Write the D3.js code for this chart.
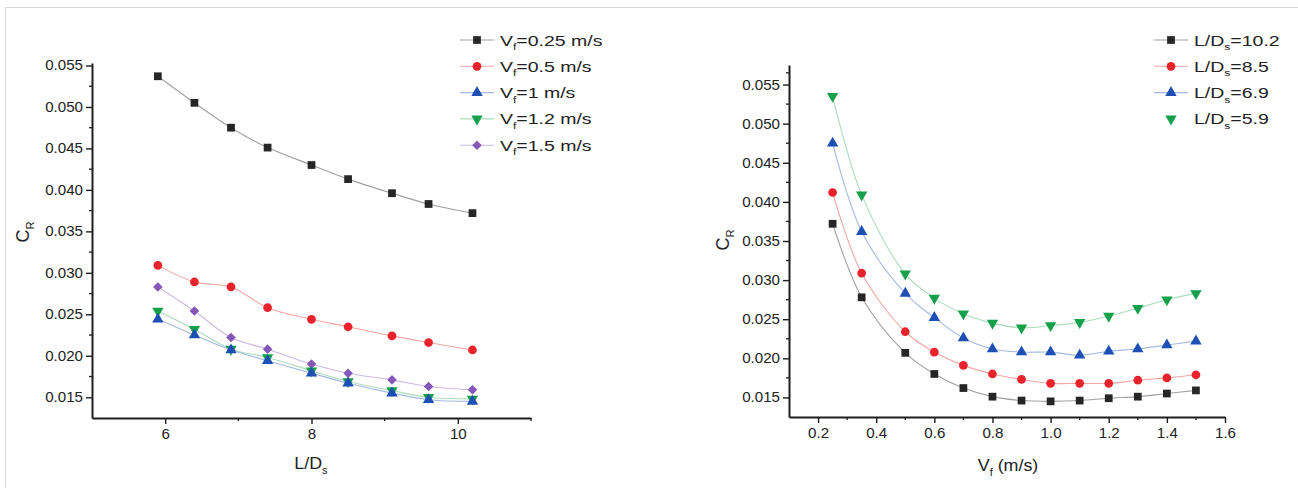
<!DOCTYPE html>
<html>
<head>
<meta charset="utf-8">
<script src="https://cdn.jsdelivr.net/npm/d3@7"></script>
<style>
  body { margin: 0; background: #ffffff; }
  svg { display: block; font-family: "Liberation Sans", Arial, sans-serif; }
</style>
</head>
<body>
<script>
// ---- data ----
var ldRatios = [5.9, 6.4, 6.9, 7.4, 8.0, 8.5, 9.1, 9.6, 10.2];
var leftSeriesNames = ["0.25", "0.5", "1", "1.2", "1.5"];
var crVf025 = [0.0537, 0.0505, 0.0475, 0.0451, 0.0430, 0.0413, 0.0396, 0.0383, 0.0372];
var crVf05  = [0.0309, 0.0289, 0.0283, 0.0258, 0.0244, 0.0235, 0.0224, 0.0216, 0.0207];
var crVf1   = [0.0244, 0.0225, 0.0207, 0.0194, 0.0179, 0.0167, 0.0155, 0.0147, 0.0145];
var crVf12  = [0.0254, 0.0232, 0.0208, 0.0198, 0.0182, 0.0169, 0.0158, 0.0150, 0.0148];
var crVf15  = [0.0283, 0.0254, 0.0222, 0.0208, 0.0190, 0.0179, 0.0171, 0.0163, 0.0159];

var flowSpeeds = [0.25, 0.35, 0.5, 0.6, 0.7, 0.8, 0.9, 1.0, 1.1, 1.2, 1.3, 1.4, 1.5];
var rightSeriesNames = ["10.2", "8.5", "6.9", "5.9"];
var crLd102 = [0.0372, 0.0278, 0.0207, 0.0180, 0.0162, 0.0151, 0.0146, 0.0145, 0.0146, 0.0149, 0.0151, 0.0155, 0.0159];
var crLd85  = [0.0412, 0.0309, 0.0234, 0.0208, 0.0191, 0.0180, 0.0173, 0.0168, 0.0168, 0.0168, 0.0172, 0.0175, 0.0179];
var crLd69  = [0.0475, 0.0362, 0.0283, 0.0252, 0.0226, 0.0212, 0.0208, 0.0208, 0.0204, 0.0209, 0.0212, 0.0217, 0.0222];
var crLd59  = [0.0535, 0.0409, 0.0308, 0.0277, 0.0257, 0.0245, 0.0239, 0.0242, 0.0246, 0.0254, 0.0264, 0.0275, 0.0283];

var crTicks = [0.015, 0.020, 0.025, 0.030, 0.035, 0.040, 0.045, 0.050, 0.055];
var ldTicks = [6, 8, 10];
var vfTicks = [0.2, 0.4, 0.6, 0.8, 1.0, 1.2, 1.4, 1.6];

var WIDTH = 1298, HEIGHT = 488;
var AXIS_COLOR = "#1e1e1e";
var TEXT_COLOR = "#222222";

var styles = {
  black:  { fill: "#262626", line: "#a0a0a0", shape: d3.symbolSquare,   size: 60 },
  red:    { fill: "#e8232b", line: "#f2a6a6", shape: d3.symbolCircle,   size: 60 },
  blue:   { fill: "#1d4fb5", line: "#a3b8e2", shape: d3.symbolTriangle, size: 56 },
  green:  { fill: "#17a04b", line: "#acdcbb", shape: "down",            size: 56 },
  purple: { fill: "#8457b8", line: "#cdb9e2", shape: "diamond",         size: 46 }
};


function markerPath(st)
{
  if (st.shape === "down" ) return d3.symbol().type(d3.symbolTriangle).size(st.size)();
  if (st.shape === "diamond") return d3.symbol().type(d3.symbolSquare).size(st.size)();
  return d3.symbol().type(st.shape).size(st.size)();
}

function markerTransform(st, x, y)
{
  var t = "translate(" + x + "," + y + ")";
  if (st.shape === "down") t += " rotate(180)";
  if (st.shape === "diamond") t += " rotate(45)";
  return t;
}


// text with a sub-scripted part, slightly stretched like the scanned figure
function subText(parent, x, y, main, sub, rest, size, anchor, sx, rot)
{
  var tr = "translate(" + x + "," + y + ")";
  if (rot) tr += " rotate(" + rot + ")";
  tr += " scale(" + sx + ",1)";
  var t = parent.append("text")
                .attr("transform", tr)
                .attr("text-anchor", anchor)
                .style("font-size", size + "px")
                .style("fill", TEXT_COLOR);
  t.append("tspan").text(main);
  t.append("tspan").attr("dy", size * 0.3).style("font-size", (size * 0.62) + "px").text(sub);
  if (rest) t.append("tspan").attr("dy", -size * 0.3).text(rest);
  return t;
}


function drawAxes(g, x, y, xTicks, xMinor, yMinor)
{
  var xr = x.range(), yr = y.range();

  // minor ticks
  g.append("g").selectAll("line").data(xMinor).join("line")
                .attr("x1", function(d) { return x(d); })
                .attr("x2", function(d) { return x(d); })
                .attr("y1", yr[0]).attr("y2", yr[0] + 3)
                .style("stroke", AXIS_COLOR).style("stroke-width", 1.3);
  g.append("g").selectAll("line").data(yMinor).join("line")
                .attr("y1", function(d) { return y(d); })
                .attr("y2", function(d) { return y(d); })
                .attr("x1", xr[0]).attr("x2", xr[0] - 3)
                .style("stroke", AXIS_COLOR).style("stroke-width", 1.3);

  var xAxis = g.append("g")
                .attr("transform", "translate(0," + yr[0] + ")")
                .call(d3.axisBottom(x).tickValues(xTicks).tickSize(6).tickSizeOuter(0).tickPadding(5)
                        .tickFormat(function(d) { return xTicks[0] > 1 ? d : d3.format(".1f")(d); }));
  var yAxis = g.append("g")
                .attr("transform", "translate(" + xr[0] + ",0)")
                .call(d3.axisLeft(y).tickValues(crTicks).tickSize(6).tickSizeOuter(0).tickPadding(4)
                        .tickFormat(d3.format(".3f")));

  [xAxis, yAxis].forEach(function(a)
  {
    a.select(".domain").style("stroke", AXIS_COLOR).style("stroke-width", 2);
    a.selectAll(".tick line").style("stroke", AXIS_COLOR).style("stroke-width", 1.4);
    a.selectAll("text")
                .style("font-size", "14px")
                .style("fill", TEXT_COLOR)
                .style("font-family", "\"Liberation Sans\", Arial, sans-serif");
  });
  xAxis.selectAll("text").attr("transform", "scale(1.08,1)")
                .attr("x", 0);
  yAxis.selectAll("text").attr("transform", "scale(1.08,1)")
                .attr("x", -9 / 1.08);
}


function drawSeries(g, x, y, xs, ys, st, curve)
{
  var pts = xs.map(function(d, i) { return [d, ys[i]]; });
  var line = d3.line()
                .x(function(d) { return x(d[0]); })
                .y(function(d) { return y(d[1]); })
                .curve(curve);
  g.append("path")
                .attr("d", line(pts))
                .style("fill", "none")
                .style("stroke", st.line)
                .style("stroke-width", 1.1);
  g.append("g").selectAll("path").data(pts).join("path")
                .attr("d", markerPath(st))
                .attr("transform", function(d) { return markerTransform(st, x(d[0]), y(d[1])); })
                .style("fill", st.fill);
}


function drawLegend(g, x0, y0, rows, drawLine)
{
  rows.forEach(function(r, i)
  {
    var yy = y0 + i * 26.3;
    if (drawLine[i])
    {
      g.append("line")
                .attr("x1", x0).attr("x2", x0 + 34)
                .attr("y1", yy).attr("y2", yy)
                .style("stroke", r.st.line).style("stroke-width", 1.1);
    }
    g.append("path")
                .attr("d", markerPath(r.st))
                .attr("transform", markerTransform(r.st, x0 + 17, yy))
                .style("fill", r.st.fill);
    subText(g, x0 + 40, yy + 5.5, r.main, r.sub, r.rest, 15, "start", 1.3);
  });
}


function setupLeftPlot(svg)
{
  var g = svg.append("g").attr("id", "left_plot");
  var x = d3.scaleLinear().domain([5, 11]).range([92, 531]);
  var y = d3.scaleLinear().domain([0.0125, 0.0553]).range([418, 63]);

  drawAxes(g, x, y, ldTicks, [7, 9, 11], [0.0175, 0.0225, 0.0275, 0.0325, 0.0375, 0.0425, 0.0475, 0.0525]);

  var series = [
    { ys: crVf025, st: styles.black },
    { ys: crVf05,  st: styles.red },
    { ys: crVf15,  st: styles.purple },
    { ys: crVf12,  st: styles.green },
    { ys: crVf1,   st: styles.blue }
  ];
  series.forEach(function(s) { drawSeries(g, x, y, ldRatios, s.ys, s.st, d3.curveCatmullRom); });

  subText(g, 29, 232, "C", "R", null, 18, "middle", 1.0, -90);
  subText(g, 311, 469, "L/D", "s", null, 17, "middle", 1.05);

  var legendStyles = [styles.black, styles.red, styles.blue, styles.green, styles.purple];
  var rows = leftSeriesNames.map(function(n, i)
  {
    return { main: "V", sub: "f", rest: "=" + n + " m/s", st: legendStyles[i] };
  });
  drawLegend(g, 460, 40, rows, [true, true, true, true, true]);
}


function setupRightPlot(svg)
{
  var g = svg.append("g").attr("id", "right_plot");
  var x = d3.scaleLinear().domain([0.1, 1.6]).range([789, 1225]);
  var y = d3.scaleLinear().domain([0.0125, 0.0575]).range([417, 65]);

  drawAxes(g, x, y, vfTicks, [0.3, 0.5, 0.7, 0.9, 1.1, 1.3, 1.5],
           [0.0175, 0.0225, 0.0275, 0.0325, 0.0375, 0.0425, 0.0475, 0.0525, 0.0565]);

  var series = [
    { ys: crLd59,  st: styles.green },
    { ys: crLd69,  st: styles.blue },
    { ys: crLd85,  st: styles.red },
    { ys: crLd102, st: styles.black }
  ];
  series.forEach(function(s) { drawSeries(g, x, y, flowSpeeds, s.ys, s.st, d3.curveCatmullRom); });

  subText(g, 729, 240, "C", "R", null, 18, "middle", 1.0, -90);
  subText(g, 1008, 471, "V", "f", " (m/s)", 17, "middle", 1.05);

  var legendStyles = [styles.black, styles.red, styles.blue, styles.green];
  var rows = rightSeriesNames.map(function(n, i)
  {
    return { main: "L/D", sub: "s", rest: "=" + n, st: legendStyles[i] };
  });
  drawLegend(g, 1154, 40, rows, [true, true, true, false]);
}


function initializeMainEnvironment()
{
  var svg = d3.select("body").append("svg")
                .attr("width", WIDTH)
                .attr("height", HEIGHT);

  svg.append("rect")
                .attr("width", WIDTH).attr("height", HEIGHT)
                .style("fill", "#ffffff");

  // faint frame of the original figure (top and left edges only)
  svg.append("path")
                .attr("d", "M5.5," + HEIGHT + " L5.5,7.5 L" + WIDTH + ",7.5")
                .style("fill", "none")
                .style("stroke", "#d9d9d9")
                .style("stroke-width", 1);

  setupLeftPlot(svg);
  setupRightPlot(svg);
}

initializeMainEnvironment();
</script>
</body>
</html>
